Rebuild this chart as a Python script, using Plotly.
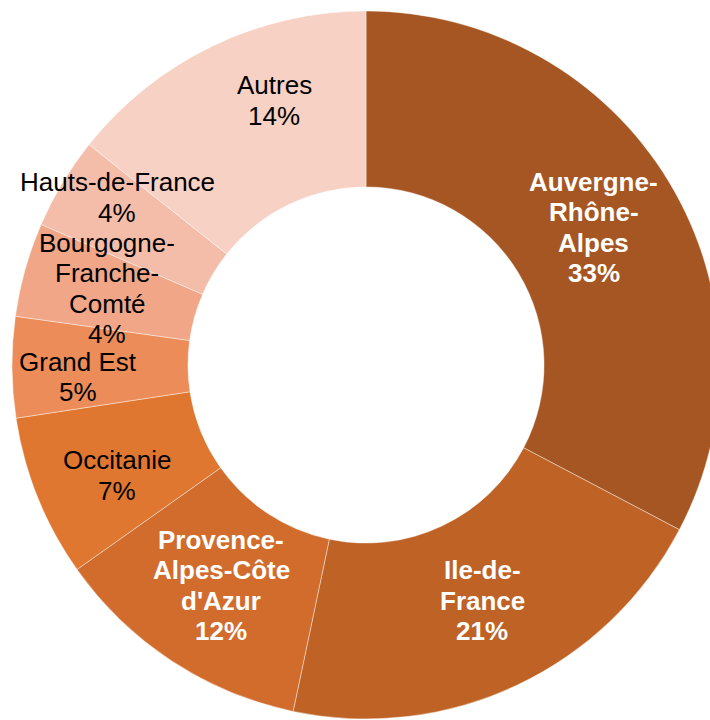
import math
import plotly.graph_objects as go

regions = ["Auvergne-Rhône-Alpes", "Ile-de-France", "Provence-Alpes-Côte d'Azur", "Occitanie",
           "Grand Est", "Bourgogne-Franche-Comté", "Hauts-de-France", "Autres"]
display_lines = [["Auvergne-", "Rhône-", "Alpes"], ["Ile-de-", "France"],
                 ["Provence-", "Alpes-Côte", "d'Azur"], ["Occitanie"], ["Grand Est"],
                 ["Bourgogne-", "Franche-", "Comté"], ["Hauts-de-France"], ["Autres"]]
shares = [32.7, 20.6, 11.9, 7.4, 4.6, 4.3, 4.2, 14.3]
percent_labels = ["33%", "21%", "12%", "7%", "5%", "4%", "4%", "14%"]

colors = ["#A55622", "#BE6226", "#D16C2C", "#E07730", "#EC8D59", "#F0A687", "#F3BDAA", "#F6D1C4"]
text_colors = ["white", "white", "white", "black", "black", "black", "black", "black"]
bold = [True, True, True, False, False, False, False, False]
label_radius = [266, 263, 264, 272, 288, 270, 300, 280]
label_angle_shift = [0, -1, 0, -2, -2, 0.8, 3, 6.6]

W, H = 720, 720
cx, cy, r_out = 366, 365, 354
line_gap = 30.5

fig = go.Figure(go.Pie(
    labels=regions,
    values=shares,
    sort=False,
    direction="clockwise",
    rotation=0,
    hole=0.503,
    marker=dict(colors=colors, line=dict(color="rgba(255,255,255,0.6)", width=0.7)),
    textinfo="none",
    hoverinfo="label+percent",
    showlegend=False,
    domain=dict(x=[(cx - r_out) / W, min(1, (cx + r_out) / W)],
                y=[max(0, 1 - (cy + r_out) / H), 1 - (cy - r_out) / H]),
))

total = sum(shares)
cum = 0
for i, v in enumerate(shares):
    mid = (cum + v / 2) / total * 360 + label_angle_shift[i]
    cum += v
    th = math.radians(mid)
    px = cx + label_radius[i] * math.sin(th)
    py = cy - label_radius[i] * math.cos(th)
    lines = display_lines[i] + [percent_labels[i]]
    n = len(lines)
    for k, line in enumerate(lines):
        ly = py + (k - (n - 1) / 2) * line_gap
        txt = "<b>" + line + "</b>" if bold[i] else line
        fig.add_annotation(
            x=px / W, y=1 - ly / H, xref="paper", yref="paper",
            text=txt, showarrow=False, xanchor="center", yanchor="middle",
            font=dict(family="Liberation Sans, Arial, sans-serif", size=26, color=text_colors[i]),
        )

fig.update_layout(
    width=W, height=H,
    margin=dict(l=0, r=0, t=0, b=0),
    paper_bgcolor="white", plot_bgcolor="white",
)

fig.write_html("out.html", config={"displayModeBar": False},
               post_script="document.body.style.margin='0';document.body.style.overflow='hidden';")
